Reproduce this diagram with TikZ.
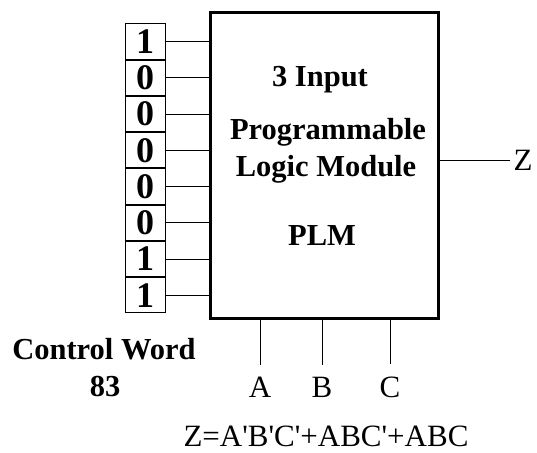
\documentclass[tikz,border=0pt]{standalone}
\usepackage{fontspec}
\setmainfont{Liberation Serif}
\usepackage{tikz}
\usetikzlibrary{positioning}

\begin{document}
\begin{tikzpicture}[x=1pt,y=-1pt,
  bit/.style={draw,line width=1pt,minimum width=40pt,minimum height=35.25pt,inner sep=0pt,font=\fontsize{36}{40}\selectfont\bfseries},
  txt/.style={inner sep=0pt,font=\fontsize{30.5}{35}\selectfont\bfseries},
  pin/.style={inner sep=0pt,font=\fontsize{31}{36}\selectfont}]
\useasboundingbox (0,0) rectangle (537,452);
\node [draw,line width=3pt,minimum width=228pt,minimum height=305pt,inner sep=0pt] (m) at (324,165.5) {};
\node [txt] (t1) at (320,80) {3 Input};
\node [txt] (t2) at (328,132) {Programmable};
\node [txt] (t3) at (326,169) {Logic Module};
\node [txt] (t4) at (322,236) {PLM};
\node [bit] (b1) at (145,41.6) {1};
\node [bit,below=0pt of b1] (b2) {0};
\node [bit,below=0pt of b2] (b3) {0};
\node [bit,below=0pt of b3] (b4) {0};
\node [bit,below=0pt of b4] (b5) {0};
\node [bit,below=0pt of b5] (b6) {0};
\node [bit,below=0pt of b6] (b7) {1};
\node [bit,below=0pt of b7] (b8) {1};
\draw [line width=1pt] (b1.east) -- (b1.east -| m.west);
\draw [line width=1pt] (b2.east) -- (b2.east -| m.west);
\draw [line width=1pt] (b3.east) -- (b3.east -| m.west);
\draw [line width=1pt] (b4.east) -- (b4.east -| m.west);
\draw [line width=1pt] (b5.east) -- (b5.east -| m.west);
\draw [line width=1pt] (b6.east) -- (b6.east -| m.west);
\draw [line width=1pt] (b7.east) -- (b7.east -| m.west);
\draw [line width=1pt] (b8.east) -- (b8.east -| m.west);
\node [pin,inner sep=3pt] (z) at (523,160) {Z};
\draw [line width=1pt] (z.west) -- (z.west -| m.east);
\node [pin] (a) at (260,387) {A};
\node [pin] (b) at (322,387) {B};
\node [pin] (c) at (390,387) {C};
\draw [line width=1pt] ([yshift=12pt]a.north) -- (a |- m.south);
\draw [line width=1pt] ([yshift=12pt]b.north) -- (b |- m.south);
\draw [line width=1pt] ([yshift=12pt]c.north) -- (c |- m.south);
\node [txt] (w) at (104,349) {Control Word};
\node [txt] (n) at (105,387) {83};
\node [pin] (f) at (326,436) {Z=A\textquotesingle B\textquotesingle C\textquotesingle+ABC\textquotesingle+ABC};
\end{tikzpicture}
\end{document}
